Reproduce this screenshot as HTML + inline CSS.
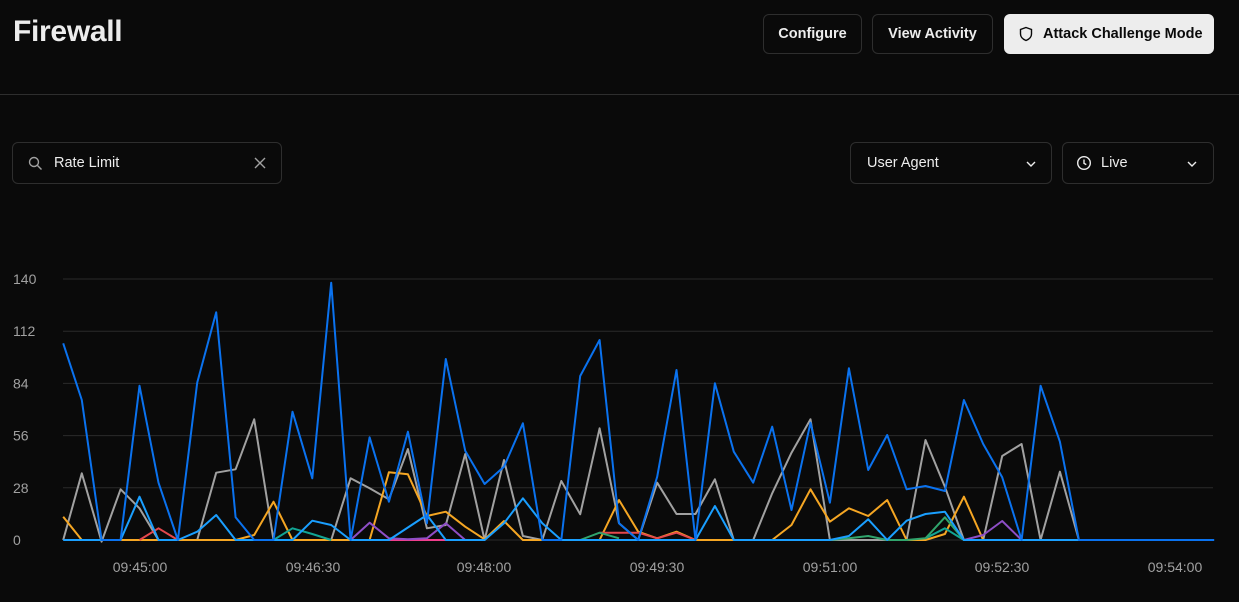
<!DOCTYPE html>
<html><head><meta charset="utf-8"><style>
*{box-sizing:border-box}
body{margin:0;width:1239px;height:602px;background:#0a0a0a;font-family:"Liberation Sans",sans-serif;color:#ededed;position:relative;overflow:hidden}
.abs{position:absolute}
h1{position:absolute;left:13px;top:15px;margin:0;font-size:30px;font-weight:bold;letter-spacing:-0.3px;color:#ededed}
.btn{position:absolute;top:14px;height:40px;border:1px solid #2e2e2e;border-radius:6px;font-size:14.5px;font-weight:bold;display:flex;align-items:center;justify-content:center;color:#ededed;background:#0a0a0a}
.sel{position:absolute;top:142px;height:42px;border:1px solid #2e2e2e;border-radius:6px;font-size:14.5px;display:flex;align-items:center;color:#ededed}
</style></head><body>
<h1>Firewall</h1>
<div class="btn" style="left:763px;width:99px">Configure</div>
<div class="btn" style="left:872px;width:121px">View Activity</div>
<div class="btn" style="left:1004px;width:210px;background:#ededed;color:#0a0a0a;border-color:#ededed;justify-content:flex-start;padding-left:14px">
<svg width="14" height="16" viewBox="0 0 14 16" style="margin-right:10px"><path d="M7 1.5 L12.5 3.5 V8 C12.5 11 10 13.3 7 14.5 C4 13.3 1.5 11 1.5 8 V3.5 Z" fill="none" stroke="#0a0a0a" stroke-width="1.4"/></svg>Attack Challenge Mode</div>
<div class="abs" style="left:0;top:94px;width:1239px;height:1px;background:#2e2e2e"></div>
<div class="sel" style="left:12px;width:270px">
<svg class="abs" style="left:15px;top:13px" width="15" height="15" viewBox="0 0 15 15"><circle cx="6" cy="6" r="4.5" fill="none" stroke="#a1a1a1" stroke-width="1.4"/><line x1="9.5" y1="9.5" x2="13.5" y2="13.5" stroke="#a1a1a1" stroke-width="1.4"/></svg>
<span class="abs" style="left:41px;top:12px">Rate Limit</span>
<svg class="abs" style="left:241px;top:14px" width="12" height="12"><path d="M1 1L11 11M11 1L1 11" stroke="#a1a1a1" stroke-width="1.4"/></svg></div>
<div class="sel" style="left:850px;width:202px"><span class="abs" style="left:16px;top:12px">User Agent</span>
<svg class="abs" style="left:175px;top:17px" width="10" height="8"><path d="M1 2L5 6L9 2" fill="none" stroke="#ededed" stroke-width="1.4"/></svg></div>
<div class="sel" style="left:1062px;width:152px">
<svg class="abs" style="left:13px;top:12px" width="16" height="16"><circle cx="8" cy="8" r="6.3" fill="none" stroke="#ededed" stroke-width="1.4"/><path d="M8 4.5V8.3L10.3 9.6" fill="none" stroke="#ededed" stroke-width="1.4"/></svg>
<span class="abs" style="left:38px;top:12px">Live</span>
<svg class="abs" style="left:124px;top:17px" width="10" height="8"><path d="M1 2L5 6L9 2" fill="none" stroke="#ededed" stroke-width="1.4"/></svg></div>
<svg id="ch" class="abs" style="left:0;top:0" width="1239" height="602" font-family="Liberation Sans, sans-serif" font-size="14" fill="#a1a1a1"></svg>
<script>
var s=document.getElementById('ch'),h='';
var ticks=[0,28,56,84,112,140];
ticks.forEach(function(v){var y=540-v*261/140;
h+='<line x1="63" x2="1213" y1="'+y+'" y2="'+y+'" stroke="#2a2a2a" stroke-width="1"/>';
h+='<text x="13" y="'+(y+5)+'">'+v+'</text>';});
var xl=[['09:45:00',140],['09:46:30',313],['09:48:00',484],['09:49:30',657],['09:51:00',830],['09:52:30',1002],['09:54:00',1175]];
xl.forEach(function(a){h+='<text x="'+a[1]+'" y="572" text-anchor="middle">'+a[0]+'</text>';});
function P(l,r){var pts=[];l.forEach(function(p){pts.push(p)});(r||[]).forEach(function(p){pts.push([p[0]+1568.6,p[1]])});
return pts.map(function(p){return (p[0]/2.53).toFixed(1)+','+(260+p[1]/3).toFixed(1)}).join(' ');}
function L(c,l,r){h+='<polyline fill="none" stroke="'+c+'" stroke-width="2" stroke-linejoin="round" points="'+P(l,r)+'"/>';}
L('#a1a1a1',[[160,840],[207,640],[257,845],[305,688],[353,745],[401,840],[450,840],[499,840],[547,638],[596,628],[643,478],[692,840],[740,840],[790,840],[838,840],[887,655],[935,685],[984,718],[1032,567],[1080,805],[1128,795],[1177,582],[1226,840],[1275,600],[1323,828],[1372,840],[1420,663],[1468,763],[1517,505],[1566,790]],
[[46,840],[94,668],[143,762],[191,762],[240,658],[288,840],[337,840],[385,700],[434,578],[482,478],[531,840],[579,840],[628,840],[676,840],[725,840],[773,540],[822,680],[870,840],[919,840],[967,588],[1016,552],[1064,840],[1113,635],[1161,840]]);
L('#f5a623',[[160,770],[207,840],[596,840],[643,825],[692,725],[740,840],[935,840],[984,637],[1032,643],[1080,768],[1128,755],[1177,800],[1226,838],[1275,783],[1323,840],[1517,840],[1566,720]],
[[46,815],[94,835],[143,815],[191,840],[385,840],[434,795],[482,688],[531,785],[579,745],[628,768],[676,720],[725,840],[773,840],[822,822],[870,710],[919,840],[1161,840]]);
L('#e5484d',[[353,840],[401,805],[450,840]],[]);
L('#e5484d',[[1517,818]],[[46,818],[94,835],[143,818],[191,840]]);
L('#f03e8c',[[984,840],[1128,840]],[]);
L('#12a594',[[692,840],[740,805],[790,822],[838,840]],[]);
L('#12a594',[],[[773,835],[822,805],[870,840]]);
L('#30a46c',[[1468,840],[1517,818],[1566,835]],[]);
L('#30a46c',[],[[531,840],[579,835],[628,828],[676,840],[725,840],[773,835],[822,772],[870,840]]);
L('#8e4ec6',[[887,840],[935,788],[984,835],[1032,838],[1080,835],[1128,790],[1177,840]],[]);
L('#8e4ec6',[],[[870,840],[919,825],[967,783],[1016,840]]);
L('#1a9fff',[[160,840],[305,840],[353,710],[401,840],[450,840],[499,815],[547,765],[596,840],[740,840],[790,782],[838,795],[887,840],[984,840],[1080,765],[1128,840],[1226,840],[1275,790],[1323,715],[1372,790],[1420,840]],
[[191,840],[240,738],[288,840],[531,840],[579,828],[628,778],[676,840],[725,782],[773,762],[822,755],[870,840],[1503,840]]);
L('#0a72ef',[[160,250],[207,420],[257,840],[305,840],[353,377],[401,668],[450,840],[499,368],[547,157],[596,772],[643,840],[692,840],[740,455],[790,655],[838,68],[887,840],[935,532],[984,725],[1032,515],[1080,790],[1128,297],[1177,572],[1226,672],[1275,620],[1323,490],[1372,840],[1420,840],[1468,348],[1517,240],[1566,790]],
[[46,840],[94,650],[143,330],[191,840],[240,370],[288,575],[337,668],[385,500],[434,750],[482,488],[531,728],[579,325],[628,630],[676,525],[725,688],[773,678],[822,693],[870,420],[919,552],[967,652],[1016,840],[1064,377],[1113,545],[1161,840],[1503,840]]);
s.innerHTML=h;
</script>
</body></html>
